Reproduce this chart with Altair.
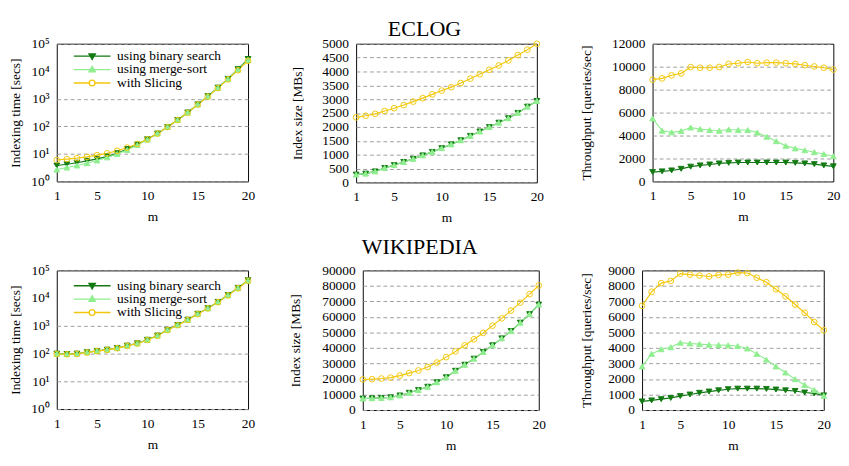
import altair as alt
import pandas as pd

# ---------------- data ----------------
m = list(range(1, 21))
SERIES = ["using binary search", "using merge-sort", "with Slicing"]

eclog_time_binary = [3.8, 4.2, 4.8, 5.6, 6.6, 8.0, 10.5, 15, 22, 34, 55, 95, 170, 320, 630, 1250, 2550, 5300, 12000, 28000]
eclog_time_merge = [2.7, 3.2, 3.8, 4.6, 5.8, 7.5, 10, 14, 21, 33, 55, 95, 170, 320, 630, 1250, 2500, 5200, 11500, 26000]
eclog_time_slicing = [6.0, 6.5, 7.0, 7.8, 9.0, 10.5, 13, 17, 23, 34, 55, 95, 170, 310, 620, 1200, 2450, 5100, 11000, 24000]

eclog_size_binary = [283, 317, 397, 522, 624, 737, 850, 975, 1100, 1236, 1372, 1519, 1678, 1837, 1995, 2154, 2313, 2506, 2732, 2937]
eclog_size_merge = [283, 317, 397, 522, 624, 737, 850, 975, 1100, 1236, 1372, 1519, 1678, 1837, 1995, 2154, 2313, 2506, 2732, 2937]
eclog_size_slicing = [2347, 2404, 2472, 2574, 2676, 2789, 2914, 3039, 3175, 3311, 3435, 3583, 3741, 3900, 4059, 4218, 4399, 4592, 4785, 5000]

eclog_tp_binary = [820, 880, 960, 1100, 1290, 1400, 1480, 1570, 1620, 1650, 1650, 1650, 1650, 1650, 1650, 1620, 1570, 1510, 1400, 1320]
eclog_tp_merge = [5490, 4420, 4280, 4390, 4700, 4560, 4480, 4420, 4530, 4480, 4480, 4260, 3900, 3510, 3100, 2880, 2720, 2550, 2390, 2200]
eclog_tp_slicing = [8870, 8980, 9250, 9420, 9970, 9910, 9910, 9970, 10240, 10300, 10410, 10300, 10350, 10350, 10300, 10240, 10130, 10020, 9910, 9750]

wiki_time_binary = [100, 97, 100, 112, 125, 139, 160, 194, 235, 315, 450, 720, 1080, 1670, 2730, 4340, 7300, 12900, 23500, 44000]
wiki_time_merge = [98, 96, 99, 111, 124, 138, 158, 192, 233, 312, 445, 715, 1070, 1650, 2700, 4300, 7200, 12700, 23000, 43000]
wiki_time_slicing = [97, 95, 98, 110, 123, 137, 157, 190, 232, 310, 440, 710, 1060, 1640, 2680, 4280, 7150, 12600, 22800, 42500]

wiki_size_binary = [7400, 7600, 7800, 8200, 9400, 11100, 12900, 15000, 17900, 21100, 25300, 29200, 33100, 37400, 41700, 46200, 50900, 56300, 61800, 68000]
wiki_size_merge = [7400, 7600, 7800, 8200, 9400, 11100, 12900, 15000, 17900, 21100, 25300, 29200, 33100, 37400, 41700, 46200, 50900, 56300, 61800, 68000]
wiki_size_slicing = [19700, 19900, 20300, 20900, 22200, 23800, 25500, 27700, 30600, 34100, 37800, 41700, 45600, 49700, 54400, 59100, 64100, 69200, 74700, 80300]

wiki_tp_binary = [555, 620, 700, 780, 900, 1000, 1110, 1190, 1270, 1340, 1380, 1380, 1380, 1360, 1320, 1270, 1230, 1130, 1070, 945]
wiki_tp_merge = [2810, 3620, 3920, 4050, 4340, 4290, 4250, 4210, 4190, 4170, 4130, 3970, 3620, 3250, 2810, 2420, 1990, 1620, 1290, 920]
wiki_tp_slicing = [6720, 7620, 8180, 8320, 8790, 8730, 8670, 8610, 8710, 8730, 8860, 8830, 8530, 8240, 7790, 7330, 6800, 6270, 5670, 5140]

x_ticks = [1, 5, 10, 15, 20]
log_ticks = [1, 10, 100, 1000, 10000, 100000]

# ---------------- styling ----------------
FONT = "Liberation Serif"
COLORS = ["#137a13", "#90ee90", "#f2c70c"]
FILLS = ["#137a13", "#90ee90", "transparent"]
SHAPES = ["triangle-down", "triangle-up", "circle"]
LEGEND_SHAPES = [
    "M-3.2,0L3.2,0M-0.55,-0.4L0.55,-0.4L0,0.55Z",
    "M-3.2,0L3.2,0M-0.55,0.4L0.55,0.4L0,-0.55Z",
    "M-3.2,0L-0.5,0M0.5,0L3.2,0M0.5,0A0.5,0.5,0,1,1,-0.5,0A0.5,0.5,0,1,1,0.5,0",
]
SUP = "['\u2070','\u00b9','\u00b2','\u00b3','\u2074','\u2075']"


def frame(b, ms, s):
    rows = []
    for name, vals in zip(SERIES, (b, ms, s)):
        for x, v in zip(m, vals):
            rows.append({"m": x, "value": v, "series": name})
    return pd.DataFrame(rows)


def panel(df, ytitle, ydomain, yvalues, log=False, legend=False, w=190, h=146, tp=8, ly=5):
    x = alt.X("m:Q", scale=alt.Scale(domain=[1, 20], nice=False, zero=False),
              axis=alt.Axis(values=x_ticks, title="m", grid=False, labelFont=FONT, titleFont=FONT,
                            labelFlush=False))
    common = dict(values=yvalues, title=ytitle, labelFont=FONT, titleFont=FONT, titlePadding=tp,
                  labelFlush=False)
    if log:
        yscale = alt.Scale(type="log", domain=ydomain, nice=False)
        yaxis = alt.Axis(labelExpr="'10' + " + SUP + "[round(log(datum.value)/LN10)]",
                         gridOpacity={"condition": {"test": "datum.value === 10000", "value": 0}, "value": 1},
                         **common)
    else:
        yscale = alt.Scale(domain=ydomain, nice=False, zero=False)
        yaxis = alt.Axis(format="d", **common)
    y = alt.Y("value:Q", scale=yscale, axis=yaxis)
    stroke_scale = alt.Scale(domain=SERIES, range=COLORS)
    fill_scale = alt.Scale(domain=SERIES, range=FILLS)

    lines = alt.Chart(df).mark_line(strokeWidth=1.2).encode(
        x=x, y=y, stroke=alt.Stroke("series:N", scale=stroke_scale, legend=None),
        order="m:Q")
    points = alt.Chart(df).mark_point(size=36, strokeWidth=1, opacity=1).encode(
        x=x, y=y,
        stroke=alt.Stroke("series:N", scale=stroke_scale, legend=None),
        fill=alt.Fill("series:N", scale=fill_scale, legend=None),
        shape=alt.Shape("series:N", scale=alt.Scale(domain=SERIES, range=SHAPES), legend=None))
    layers = [lines, points]
    if legend:
        leg = alt.Legend(orient="none", legendX=29, legendY=ly, title=None,
                         labelFont=FONT, labelFontSize=14, labelColor="black",
                         symbolSize=144, symbolStrokeWidth=1.4, labelOffset=19,
                         padding=1, rowPadding=0, labelLimit=0, symbolOpacity=1)
        ghost = alt.Chart(df).mark_point(size=144, opacity=1).encode(
            x=x, y=y,
            stroke=alt.Stroke("series:N", scale=alt.Scale(domain=SERIES, range=COLORS), legend=leg),
            fill=alt.Fill("series:N", scale=alt.Scale(domain=SERIES, range=FILLS), legend=leg),
            shape=alt.Shape("series:N", scale=alt.Scale(domain=SERIES, range=LEGEND_SHAPES), legend=leg),
        ).transform_filter("datum.m < 0")
        layers.append(ghost)
    ch = alt.layer(*layers).properties(width=w, height=h)
    if legend:
        ch = ch.resolve_scale(stroke="independent", fill="independent", shape="independent")
    return ch


title_style = dict(fontSize=23, font=FONT, fontWeight="normal", anchor="middle", color="black")

top = alt.concat(
    panel(frame(eclog_time_binary, eclog_time_merge, eclog_time_slicing), "Indexing time [secs]",
          [1, 100000], log_ticks, log=True, legend=True, w=200, h=144, tp=9, ly=5),
    panel(frame(eclog_size_binary, eclog_size_merge, eclog_size_slicing), "Index size [MBs]",
          [0, 5000], list(range(0, 5001, 500)), w=189, h=145, tp=18),
    panel(frame(eclog_tp_binary, eclog_tp_merge, eclog_tp_slicing), "Throughput [queries/sec]",
          [0, 12000], list(range(0, 12001, 2000)), w=189, h=144, tp=19),
    columns=3, spacing=36, align="none", title=alt.TitleParams("ECLOG", offset=-4, **title_style),
)

bottom = alt.concat(
    panel(frame(wiki_time_binary, wiki_time_merge, wiki_time_slicing), "Indexing time [secs]",
          [1, 100000], log_ticks, log=True, legend=True, w=200, h=145, tp=9, ly=8),
    panel(frame(wiki_size_binary, wiki_size_merge, wiki_size_slicing), "Index size [MBs]",
          [0, 90000], list(range(0, 90001, 10000)), w=184, h=146, tp=20),
    panel(frame(wiki_tp_binary, wiki_tp_merge, wiki_tp_slicing), "Throughput [queries/sec]",
          [0, 9000], list(range(0, 9001, 1000)), w=190, h=146, tp=15),
    columns=3, spacing=34, align="none", title=alt.TitleParams("WIKIPEDIA", offset=5, **title_style),
)

chart = alt.vconcat(top, bottom, spacing=11).properties(padding=0).configure_view(
    stroke="black", strokeWidth=1
).configure_axis(
    labelFont=FONT, titleFont=FONT, labelFontSize=14, titleFontSize=14,
    titleFontWeight="normal", labelColor="black", titleColor="black", labelFlush=False,
    domain=False, ticks=False, gridColor="#9a9a9a", gridDash=[4, 3], gridWidth=1,
).configure_axisX(labelPadding=8, titlePadding=8).configure_axisY(
    labelPadding=8
).configure_title(font=FONT, fontWeight="normal", color="black")

chart.save("out.html", embed_options={"renderer": "svg", "actions": False})
